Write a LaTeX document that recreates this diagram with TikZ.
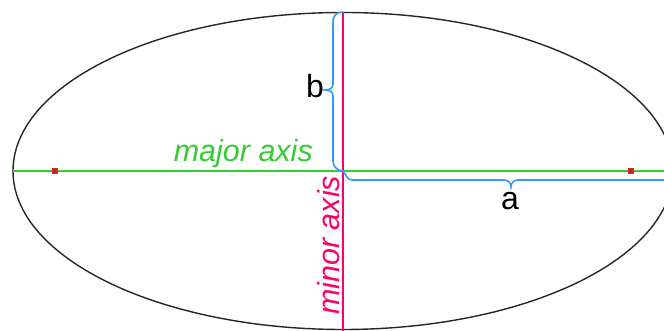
\documentclass[tikz,border=0pt]{standalone}
\usepackage{fontspec}
\setmainfont{Liberation Sans}
\definecolor{axgreen}{RGB}{51,204,51}
\definecolor{axpink}{RGB}{255,0,102}
\definecolor{axblue}{RGB}{51,153,255}
\definecolor{focred}{RGB}{235,30,30}
\tikzset{
  outline/.style={draw=black!85, line width=1.4pt},
  majorline/.style={draw=axgreen, line width=2pt},
  minorline/.style={draw=axpink, line width=2pt},
  bracepath/.style={draw=axblue, line width=1.6pt},
  focusdot/.style={fill=focred},
  lbl/.style={inner sep=0pt, font=\fontsize{30.5}{36}\selectfont\itshape},
  letter/.style={inner sep=0pt, font=\fontsize{32}{38}\selectfont},
}
\begin{document}
\begin{tikzpicture}[x=1pt,y=-1pt]
\useasboundingbox (0,0) rectangle (664,331);
\clip (0,0) rectangle (664,331);
\coordinate (C) at (343,171);
\coordinate (L) at (13,171);
\coordinate (R) at (664,171);
\coordinate (T) at (343,12);
\coordinate (B) at (343,331);
\coordinate (F1) at (55,171);
\coordinate (F2) at (631,171);
% ellipse
\draw[outline] (C) ellipse [x radius=330, y radius=158.5];
% axes
\draw[majorline] (L) -- (R);
\draw[minorline] (T) -- (B);
% braces
\draw[bracepath] (T) .. controls (336,12) and (333,16) .. (333,22)
  -- (333,84) .. controls (333,88) and (330,90) .. (325,90)
  .. controls (330,90) and (333,92) .. (333,96)
  -- (333,161) .. controls (333,167) and (338,171) .. (C)
  .. controls (347,176) and (347,180) .. (353,180)
  -- (504,180) .. controls (508,180) and (511,183) .. (511,187)
  .. controls (511,183) and (514,180) .. (518,180)
  -- (680,180);
% foci
\fill[focusdot] (F1) +(-3,-3) rectangle +(3,3);
\fill[focusdot] (F2) +(-3,-3) rectangle +(3,3);
\fill[black!70] (F1) +(-1,-1) rectangle +(1,1);
\fill[black!70] (F2) +(-1,-1) rectangle +(1,1);
% labels
\node[lbl, text=axgreen, anchor=base east] (maj) at (313,162) {major axis};
\node[lbl, text=axpink, rotate=90, anchor=base west] (min) at (339,315) {minor axis};
\node[letter, anchor=center] (bl) at (315,86) {b};
\node[letter, anchor=center] (al) at (510,201) {a};
\end{tikzpicture}
\end{document}
